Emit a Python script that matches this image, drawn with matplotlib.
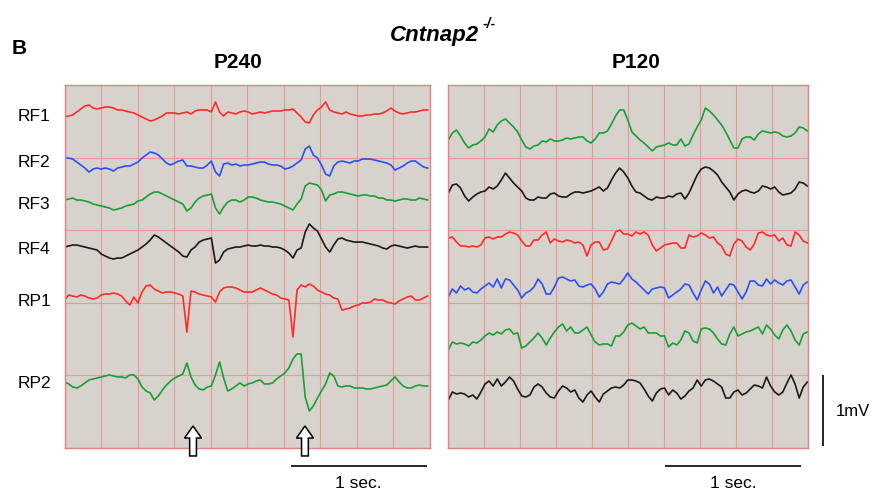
import matplotlib
matplotlib.use("Agg")

import numpy as np
import matplotlib.pyplot as plt
from matplotlib.patches import FancyArrow

plt.rcParams["font.family"] = ["Liberation Sans", "DejaVu Sans"]

# EEG traces digitised as raw counts, one sample every DT seconds
DT = 0.03
GAIN_UV = 1000 / 71  # µV per count

P240_LABELS = ["RF1", "RF2", "RF3", "RF4", "RP1", "RP2"]
P240_COLORS = ["#ff2a2a", "#2b50f5", "#17a035", "#1a1a1a", "#ff2a2a", "#17a035"]

P240_RF1 = [-5, -4, -3, 0, 3, 6, 7, 4, 3, 4, 5, 5, 4, 2, 2, 1, 0, -1, -3, -5,
            -7, -9, -8, -6, -4, -1, -1, -1, -2, -1, 0, -2, 1, 2, 2, 2, 0, 10, 0, -4,
            0, -1, -2, 0, 1, 0, -2, -1, 0, -1, 0, 1, 1, 1, 2, 2, 3, -1, -5, -10,
            -11, -3, 2, 5, 10, 2, 0, -1, -2, 0, -2, -3, -4, -4, -3, -3, -2, -2, -1, 1,
            4, 1, -1, -2, -1, 0, 0, 1, 2, 2]
P240_RF2 = [6, 6, 5, 2, -1, -4, -8, -5, -4, -5, -4, -5, -7, -4, -3, -2, -2, 0, 2, 6,
            9, 12, 11, 9, 5, 1, -1, 1, 3, 4, -2, -2, -3, -4, -4, -1, 3, -8, -12, 0,
            1, -1, 0, -2, -1, -1, 0, 1, 2, 2, 0, -1, -1, -2, -5, -4, -2, 1, 4, 15,
            18, 9, 6, -1, -10, -12, -2, 2, 3, 2, 1, 3, 3, 5, 5, 5, 4, 3, 2, 1,
            -1, -6, -4, -2, 1, 3, 3, 0, -3, -4]
P240_RF3 = [0, 1, 2, 0, 0, -1, -2, -4, -5, -6, -7, -8, -10, -9, -8, -6, -5, -4, -1, 0,
            3, 6, 8, 8, 6, 4, 2, 0, -2, -4, -11, -8, -2, 2, 4, 5, 6, -8, -14, -7,
            -2, 0, 0, -2, 0, 3, 3, 2, 0, -1, -2, -2, -3, -4, -6, -8, -10, -4, 1, 14,
            17, 16, 15, 10, -1, 5, 6, 8, 8, 7, 6, 5, 4, 5, 5, 4, 4, 2, 2, 0,
            0, -1, 0, 1, 1, 0, 0, 2, 1, 0]
P240_RF4 = [-1, 0, 1, 1, 0, -1, -2, -3, -4, -8, -10, -12, -13, -12, -12, -10, -8, -6, -4, -1,
            2, 6, 11, 9, 6, 3, 0, -3, -6, -10, -11, -4, -1, 4, 6, 7, 8, -17, -14, -6,
            -3, -2, -1, -1, 0, 1, 0, 0, 1, 0, 0, -1, -1, -2, -4, -7, -12, -4, -2, 14,
            22, 18, 15, 7, -1, -6, 1, 7, 8, 6, 5, 4, 4, 4, 3, 2, 1, 0, -2, -3,
            0, 1, 0, -1, -2, -1, 0, -1, -1, -1]
P240_RP1 = [-5, 0, -1, -2, 0, -1, -3, -4, -3, 0, 1, 1, 2, 1, -1, -6, -10, -2, -8, 3,
            9, 10, 6, 4, 2, 3, 3, 2, 1, -1, -37, 4, 3, 1, 0, -1, -2, -7, 3, 7,
            8, 8, 7, 5, 3, 3, 3, 5, 7, 5, 3, 1, 0, -3, -4, -5, -42, 5, 10, 8,
            11, 9, 5, 3, 1, 0, -3, -4, -15, -14, -13, -11, -10, -8, -8, -7, -4, -5, -5, -7,
            -8, -9, -6, -4, -2, -1, -5, -5, -3, -1]
P240_RP2 = [3, 1, -2, -3, -1, 2, 5, 6, 7, 8, 9, 10, 9, 8, 8, 7, 10, 10, 6, -2,
            -6, -8, -15, -11, -5, 0, 4, 7, 9, 11, 22, 8, 0, -4, -5, -2, -1, 10, 23, 7,
            -6, -4, -1, 2, -1, 1, 2, 4, 5, 1, 1, 2, 6, 9, 12, 17, 26, 31, 31, -12,
            -26, -21, -13, -6, 1, 12, 9, -1, -2, -1, -1, -3, -3, -3, -4, -4, -3, -2, -1, 0,
            4, 8, 3, -1, -3, -3, -1, 0, -1, -1]

P120_COLORS = ["#17a035", "#1a1a1a", "#ff2a2a", "#2b50f5", "#17a035", "#1a1a1a"]

P120_CH1 = [-2, 5, 8, 2, -5, -10, -7, -6, -3, 1, 9, 6, 13, 17, 19, 15, 11, 6, -2, -9,
            -11, -8, -7, -3, -4, -1, -3, -3, -2, 0, -1, 0, 1, 1, -3, -5, -1, 5, 5, 7,
            14, 22, 28, 28, 18, 6, 2, -2, -5, -9, -13, -9, -8, -7, -5, -7, -7, -1, -8, -6,
            3, 11, 18, 30, 27, 23, 18, 13, 6, -2, -10, -10, -1, 1, 1, -2, 4, 7, 6, 5,
            6, 5, 2, 1, 2, 5, 11, 10, 7]
P120_CH2 = [-3, 5, 6, 2, -6, -11, -7, -4, -2, -1, 3, 1, 4, 10, 17, 12, 7, 3, -1, -8,
            -10, -10, -7, -8, -8, -4, -3, -6, -7, -7, -4, -2, -2, -3, -2, -1, 1, 3, -1, 2,
            10, 17, 22, 18, 12, 4, -2, -3, -6, -9, -10, -7, -8, -8, -6, -7, -4, -3, -9, -3,
            6, 15, 21, 23, 22, 19, 15, 8, 3, -2, -10, -4, -1, 0, -2, -3, -1, 4, 3, 1,
            3, -2, -5, -4, -3, 1, 8, 7, 4]
P120_CH3 = [2, 3, -2, -6, -6, -7, -6, -7, -5, 2, 3, 1, 3, 3, 6, 8, 7, 5, -1, -6,
            -6, 0, 0, 5, 8, -3, 1, -1, -2, 0, -1, -3, -2, -5, -16, -5, -2, -2, -10, -9,
            -1, 8, 10, 6, 6, 4, 8, 6, 8, 5, -5, -11, -8, -5, -4, -3, -3, -8, -8, 5,
            3, 4, 7, 5, 2, 3, -3, -6, -14, -16, -4, 1, -1, -7, -10, -4, 7, 8, 5, 4,
            5, -1, 2, -5, -6, 8, 5, -1, -3]
P120_CH4 = [-10, -2, -6, 1, -3, -1, -5, -6, -2, 1, 4, 0, 8, -1, 8, 7, 2, -3, -11, -6,
            -4, 0, 8, 3, -7, -7, 0, 9, 10, 8, 6, 7, 1, 0, 2, 3, -2, -10, -5, 3,
            5, 4, 3, 8, 14, 8, 5, 1, -3, -7, -2, -1, 0, -1, -11, -8, -5, -2, 3, 2,
            -6, -13, -3, 6, 3, -6, 0, -9, -3, 3, 2, -5, -12, -5, 6, 6, 2, 1, 8, 3,
            7, 4, 2, 6, 7, 0, -7, 2, 5]
P120_CH5 = [-15, -7, -9, -8, -9, -11, -7, -8, -5, -1, 2, 0, 3, 1, 5, 6, 1, 2, -13, -11,
            -7, -3, 2, -3, -10, -3, 3, 8, 11, 4, 8, 2, 2, 5, 8, 0, -7, -10, -9, -9,
            -11, -1, -1, 3, 10, 12, 9, 6, 8, 2, 2, 2, -1, -1, -12, -8, -10, -5, 4, 2,
            -6, -8, 6, 7, 6, 2, -4, -9, -10, 1, 8, -1, 1, 3, 4, 6, 8, 1, 10, 6,
            0, -4, 5, 10, 4, -5, -10, 1, 3]
P120_CH6 = [-10, -2, -4, -3, -4, -7, -5, -9, -2, 6, 9, 4, 11, 4, 8, 13, 9, 1, -6, -7,
            -5, 3, 6, 3, -3, -7, -8, -1, 4, 2, -2, 0, -8, -12, -5, -1, -7, -12, -4, -1,
            2, 3, 2, 5, 10, 10, 9, 7, 1, -6, -11, -3, 1, 2, -5, 0, -3, -9, -6, -1,
            2, 10, 4, 10, 11, 9, 6, 3, -8, -8, -2, 0, -5, -3, 1, 5, 4, 2, 13, 4,
            -2, -5, -2, 7, 15, 6, -8, 3, 8]

ARROW_TIMES = [0.945, 1.768]  # s, events marked in P240
SCALE_SEC = 1.0
SCALE_MV = 1.0

# layout (mV below panel top)
P240_OFFSETS = [0.380, 1.113, 1.620, 2.268, 2.958, 4.225]
P240_LABEL_Y = [0.437, 1.092, 1.676, 2.310, 3.056, 4.211]
P120_OFFSETS = [0.746, 1.479, 2.183, 2.845, 3.521, 4.296]
PANEL_MV = 5.113

BG = "#d8d2cc"
GRID = "#e89a9a"
EDGE = "#e28282"


def draw_panel(ax, traces, colors, offsets, xmax):
    ax.set_facecolor(BG)
    for counts, color, off in zip(traces, colors, offsets):
        t = np.arange(len(counts)) * DT
        v = np.asarray(counts) * GAIN_UV / 1000.0
        ax.plot(t, v - off, color=color, lw=1.2, solid_joinstyle="round")
    ax.set_xlim(0, xmax)
    ax.set_ylim(-PANEL_MV, 0)
    ax.set_xticks(np.linspace(0, xmax, 11))
    ax.set_yticks(np.linspace(-PANEL_MV, 0, 6))
    ax.grid(True, color=GRID, lw=0.8, snap=True)
    ax.set_axisbelow(True)
    ax.tick_params(length=0, labelbottom=False, labelleft=False)
    for sp in ax.spines.values():
        sp.set_color(EDGE)
        sp.set_linewidth(1.0)


fig = plt.figure(figsize=(8.72, 4.90), dpi=100)
ax_l = fig.add_axes([0.0740, 0.0857, 0.4191, 0.7408])
ax_r = fig.add_axes([0.5141, 0.0857, 0.4122, 0.7408])

p240 = [P240_RF1, P240_RF2, P240_RF3, P240_RF4, P240_RP1, P240_RP2]
p120 = [P120_CH1, P120_CH2, P120_CH3, P120_CH4, P120_CH5, P120_CH6]
draw_panel(ax_l, p240, P240_COLORS, P240_OFFSETS, 2.6875)
draw_panel(ax_r, p120, P120_COLORS, P120_OFFSETS, 2.643)

for lab, y in zip(P240_LABELS, P240_LABEL_Y):
    ax_l.text(-0.128, -y, lab, transform=ax_l.get_yaxis_transform(),
              ha="left", va="center", fontsize=12.5)

for t in ARROW_TIMES:
    ax_l.add_patch(FancyArrow(t, -5.225, 0, 0.422, width=0.05, head_width=0.125,
                              head_length=0.17, length_includes_head=True,
                              facecolor="white", edgecolor="black", lw=1.1,
                              clip_on=False, zorder=5))

# time scale bars
for ax, x0 in ((ax_l, 1.663), (ax_r, 1.596)):
    ax.plot([x0, x0 + SCALE_SEC], [-5.362, -5.362], color="black", lw=1.2,
            clip_on=False, solid_capstyle="butt")
    ax.text(x0 + SCALE_SEC / 2, -5.606, "1 sec.", ha="center", va="center",
            fontsize=12.5)

# amplitude scale bar
ax_r.plot([2.753, 2.753], [-4.085, -4.085 - SCALE_MV], color="black", lw=1.2,
          clip_on=False, solid_capstyle="butt")
ax_r.text(2.851, -4.592, "1mV", ha="left", va="center", fontsize=12)

fig.text(12 / 872, 1 - 48 / 490, "B", fontsize=15, fontweight="bold",
         ha="left", va="center")
fig.text(238 / 872, 1 - 62 / 490, "P240", fontsize=15, fontweight="bold",
         ha="center", va="center")
fig.text(636 / 872, 1 - 62 / 490, "P120", fontsize=15, fontweight="bold",
         ha="center", va="center")
fig.text(390 / 872, 1 - 41.5 / 490, "Cntnap2", fontsize=16, fontweight="bold",
         fontstyle="italic", ha="left", va="baseline")
fig.text(483 / 872, 1 - 24 / 490, "-/-", fontsize=10, fontweight="bold",
         fontstyle="italic", ha="left", va="center")

fig.savefig("out.png", dpi=100)
plt.close(fig)
